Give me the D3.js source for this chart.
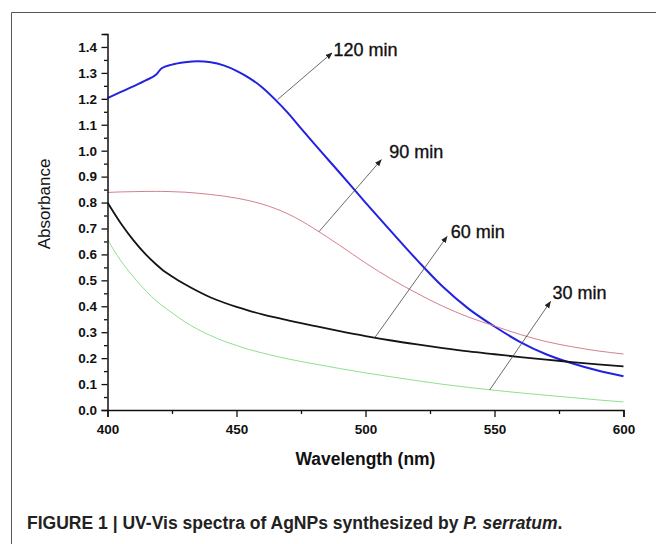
<!DOCTYPE html>
<html>
<head>
<meta charset="utf-8">
<script src="https://cdn.jsdelivr.net/npm/d3@7"></script>
<style>
  body { margin: 0; background: #fff; }
  svg { display: block; font-family: "Liberation Sans", Arial, sans-serif; }
</style>
</head>
<body>
<svg width="656" height="544"></svg>
<script>
// wavelengths (nm) sampled from the plot
const wavelength = [400, 405, 410, 415, 419, 421, 425, 430, 435, 440, 445, 450, 455, 460, 465, 470, 475, 480, 490, 500, 510, 520, 530, 540, 550, 560, 570, 580, 590, 600];

// absorbance per series
const abs120 = [1.203, 1.226, 1.248, 1.272, 1.295, 1.318, 1.332, 1.341, 1.345, 1.341, 1.329, 1.308, 1.280, 1.244, 1.197, 1.145, 1.086, 1.028, 0.915, 0.800, 0.688, 0.578, 0.475, 0.390, 0.322, 0.262, 0.215, 0.180, 0.152, 0.130];
const abs90  = [0.839, 0.841, 0.842, 0.843, 0.843, 0.843, 0.842, 0.840, 0.836, 0.831, 0.825, 0.817, 0.807, 0.794, 0.777, 0.756, 0.730, 0.700, 0.635, 0.567, 0.505, 0.450, 0.400, 0.358, 0.324, 0.291, 0.264, 0.244, 0.228, 0.216];
const abs60  = [0.800, 0.722, 0.655, 0.598, 0.560, 0.543, 0.515, 0.485, 0.458, 0.434, 0.4145, 0.3975, 0.3825, 0.369, 0.357, 0.346, 0.335, 0.3245, 0.304, 0.285, 0.268, 0.253, 0.239, 0.226, 0.215, 0.204, 0.194, 0.185, 0.176, 0.168];
const abs30  = [0.657, 0.578, 0.514, 0.458, 0.420, 0.404, 0.375, 0.340, 0.311, 0.287, 0.266, 0.249, 0.233, 0.220, 0.208, 0.197, 0.187, 0.178, 0.160, 0.143, 0.128, 0.113, 0.099, 0.087, 0.076, 0.066, 0.057, 0.048, 0.039, 0.031];

const seriesNames = ["120 min", "90 min", "60 min", "30 min"];
const seriesColors = ["#2222e2", "#d4808c", "#141414", "#8fe08f"];
const seriesWidths = [2, 1, 1.8, 1];

// annotation arrows and label anchors, in data units
const arrowTail = [[465.9, 1.197], [482.0, 0.688], [503.6, 0.279], [548.1, 0.077]];
const arrowHead = [[487.0, 1.377], [506.1, 0.965], [531.6, 0.669], [571.7, 0.418]];
const labelAt   = [[487.6, 1.367], [509.2, 0.971], [533.0, 0.664], [572.5, 0.427]];

const xMajor = [400, 450, 500, 550, 600];
const xMinor = [425, 475, 525, 575];
const yMajor = d3.range(0, 15).map(i => i / 10);
const yMinor = d3.range(0, 15).map(i => i / 10 + 0.05);

const svg = d3.select('svg');
const margin = {left: 107.5, right: 32.5, top: 34, bottom: 134};
const width = +svg.attr("width") - margin.left - margin.right;
const height = +svg.attr("height") - margin.top - margin.bottom;

// figure frame
svg.append("path")
  .attr("d", "M11.5,544 L11.5,12.5 L656,12.5")
  .attr("fill", "none")
  .attr("stroke", "#555")
  .attr("stroke-width", 1);

const x = d3.scaleLinear().domain([400, 600]).range([0, width]);
const y = d3.scaleLinear().domain([0, 1.45]).range([height, 0]);

const g = svg.append("g").attr("transform", "translate(" + margin.left + "," + margin.top + ")");

svg.append("defs").append("marker")
  .attr("id", "arr")
  .attr("viewBox", "0 0 10 10")
  .attr("refX", 9).attr("refY", 5)
  .attr("markerWidth", 7).attr("markerHeight", 7)
  .attr("markerUnits", "userSpaceOnUse")
  .attr("orient", "auto")
  .append("path").attr("d", "M0,1 L10,5 L0,9 Z").attr("fill", "#222");

// curves
const line = d3.line().x((d, i) => x(wavelength[i])).y(d => y(d)).curve(d3.curveMonotoneX);
[abs120, abs90, abs60, abs30].forEach((s, k) => {
  g.append("path")
    .datum(s)
    .attr("fill", "none")
    .attr("stroke", seriesColors[k])
    .attr("stroke-width", seriesWidths[k])
    .attr("d", line);
});

// axes
g.append("g").attr("transform", "translate(0," + height + ")")
  .call(d3.axisBottom(x).tickValues(xMajor).tickSize(7).tickPadding(7).tickFormat(d3.format("d")));
g.append("g").attr("transform", "translate(0," + height + ")")
  .call(d3.axisBottom(x).tickValues(xMinor).tickSize(4).tickFormat(""))
  .select(".domain").remove();

g.append("g")
  .call(d3.axisLeft(y).tickValues(yMajor).tickSize(6).tickPadding(4.5).tickFormat(d3.format(".1f")));
g.append("g")
  .call(d3.axisLeft(y).tickValues(yMinor).tickSize(3.5).tickFormat(""))
  .select(".domain").remove();

g.selectAll(".domain").attr("stroke", "#111").attr("stroke-width", 1.5);
g.selectAll(".tick line").attr("stroke", "#111").attr("stroke-width", 1.3);
g.selectAll(".tick text")
  .style("font-size", "13.5px")
  .style("font-weight", "bold")
  .attr("fill", "#111");

// arrows and labels
seriesNames.forEach((name, k) => {
  g.append("line")
    .attr("x1", x(arrowTail[k][0])).attr("y1", y(arrowTail[k][1]))
    .attr("x2", x(arrowHead[k][0])).attr("y2", y(arrowHead[k][1]))
    .attr("stroke", "#444")
    .attr("stroke-width", 0.8)
    .attr("marker-end", "url(#arr)");
  g.append("text")
    .attr("x", x(labelAt[k][0]))
    .attr("y", y(labelAt[k][1]))
    .style("font-size", "18px")
    .attr("fill", "#111")
    .attr("stroke", "#111")
    .attr("stroke-width", 0.35)
    .text(name);
});

// squeeze a text horizontally to a given width (the original uses a condensed face)
function fitWidth(sel, x0, y0, w) {
  const tw = sel.node().getComputedTextLength();
  sel.attr("transform", "translate(" + x0 + "," + y0 + ") scale(" + (w / tw) + ",1)");
}

// axis titles
const xTitle = svg.append("text")
  .style("font-size", "19px")
  .style("font-weight", "bold")
  .attr("fill", "#111")
  .text("Wavelength (nm)");
fitWidth(xTitle, margin.left + width / 2 - 70, 465, 140);

svg.append("text")
  .attr("transform", "translate(50,204) rotate(-90)")
  .attr("text-anchor", "middle")
  .style("font-size", "17px")
  .attr("fill", "#111")
  .text("Absorbance");

// caption
const cap = svg.append("text")
  .style("font-size", "19px")
  .style("font-weight", "bold")
  .attr("fill", "#222");
cap.append("tspan").text("FIGURE 1 | UV-Vis spectra of AgNPs synthesized by ");
cap.append("tspan").style("font-style", "italic").text("P. serratum");
cap.append("tspan").text(".");
fitWidth(cap, 27, 529, 536);
</script>
</body>
</html>
